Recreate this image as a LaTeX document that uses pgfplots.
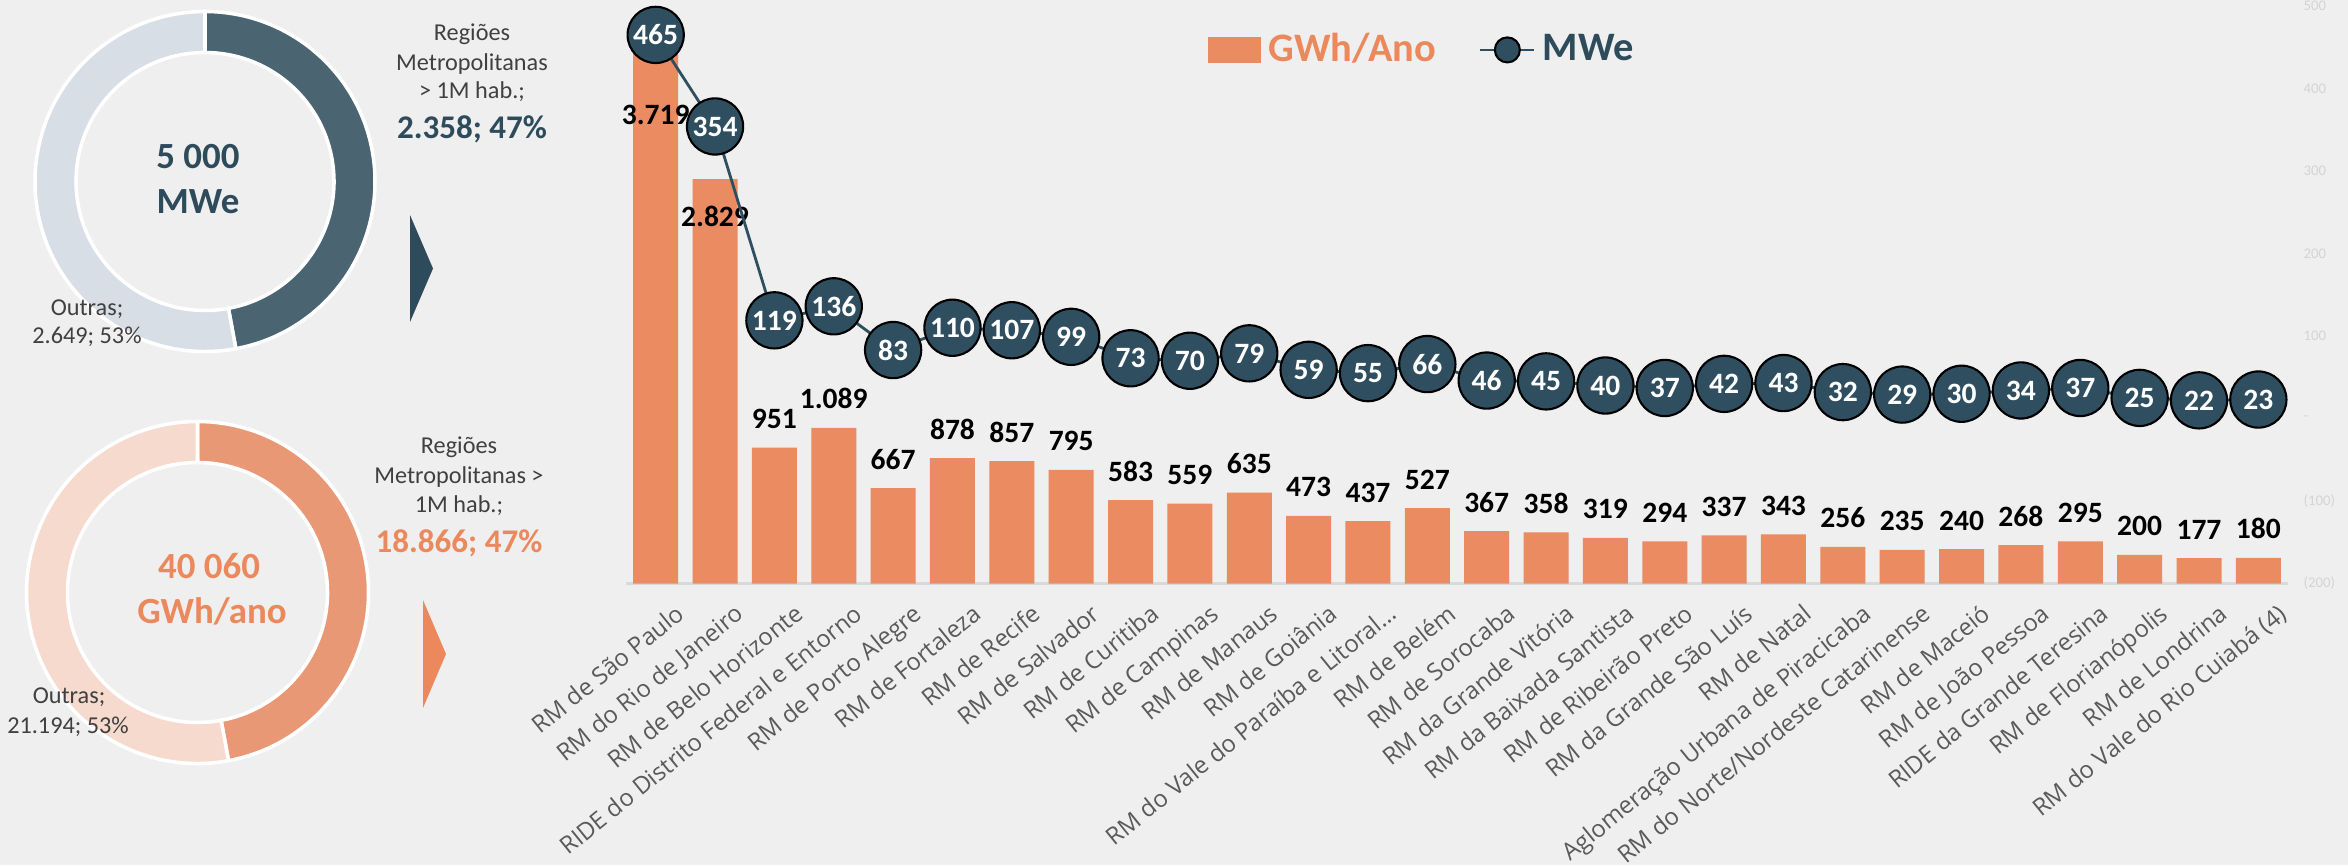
\documentclass[border=0pt]{standalone}
\usepackage{pgfplots}
\pgfplotsset{compat=1.18}
\usepackage{pgfplotstable}
\usepackage{fontspec}
\setmainfont{Carlito}
\newfontfamily\tickfont{Open Sans}
\definecolor{bgc}{RGB}{239,239,239}
\definecolor{barc}{RGB}{234,139,97}
\definecolor{markc}{RGB}{47,79,96}
\definecolor{slatec}{RGB}{46,75,92}
\definecolor{darkseg}{RGB}{74,100,114}
\definecolor{lightseg}{RGB}{216,222,230}
\definecolor{orseg}{RGB}{233,152,118}
\definecolor{orlight}{RGB}{246,218,205}
\definecolor{ortext}{RGB}{235,137,92}
\definecolor{txtc}{RGB}{64,64,64}
\definecolor{tickc}{RGB}{90,90,90}
\definecolor{faintc}{RGB}{212,212,212}
\definecolor{basec}{RGB}{217,217,217}

\pgfplotstableread{
x gwh mwe off
0 3719 465 -20.8
1 2829 354 -13.4
2 951 119 5.4
3 1089 136 5.4
4 667 83 5.4
5 878 110 5.4
6 857 107 5.4
7 795 99 5.4
8 583 73 5.4
9 559 70 5.4
10 635 79 5.4
11 473 59 5.4
12 437 55 5.4
13 527 66 5.4
14 367 46 5.4
15 358 45 5.4
16 319 40 5.4
17 294 37 5.4
18 337 42 5.4
19 343 43 5.4
20 256 32 5.4
21 235 29 5.4
22 240 30 5.4
23 268 34 5.4
24 295 37 5.4
25 200 25 5.4
26 177 22 5.4
27 180 23 5.4
}\datatable

\newcommand\labfont{\fontsize{8.4}{10}\selectfont\bfseries}
\newcommand\sidefont{\fontsize{6.9}{8}\selectfont}

\begin{document}
\begin{tikzpicture}
\path[use as bounding box] (0,0) rectangle (23.48,8.65);
\fill[bgc] (0,0) rectangle (23.48,8.65);

% ---- top donut (MWe) ----
\pgfmathsetmacro\angA{90-360*(2.358/(2.358+2.649))}
\begin{scope}[shift={(2.05,6.835)}]
 \filldraw[fill=darkseg, draw=white, line width=1pt] (90:1.70) arc[start angle=90, end angle=\angA, radius=1.70] -- (\angA:1.29) arc[start angle=\angA, end angle=90, radius=1.29] -- cycle;
 \filldraw[fill=lightseg, draw=white, line width=1pt] (\angA:1.70) arc[start angle=\angA, end angle=-270, radius=1.70] -- (-270:1.29) arc[start angle=-270, end angle=\angA, radius=1.29] -- cycle;
\end{scope}
\node[anchor=base, font=\fontsize{10.5}{12}\selectfont\bfseries, text=slatec] at (1.98,6.97) {5 000};
\node[anchor=base, font=\fontsize{10.5}{12}\selectfont\bfseries, text=slatec] at (1.98,6.52) {MWe};
\node[anchor=base, font=\sidefont, text=txtc] at (4.72,8.243) {Regiões};
\node[anchor=base, font=\sidefont, text=txtc] at (4.72,7.95) {Metropolitanas};
\node[anchor=base, font=\sidefont, text=txtc] at (4.72,7.67) {> 1M hab.;};
\node[anchor=base, font=\fontsize{9.4}{11}\selectfont\bfseries, text=slatec] at (4.72,7.27) {2.358; 47\%};
\node[anchor=base, font=\sidefont, text=txtc] at (0.87,5.50) {Outras;};
\node[anchor=base, font=\sidefont, text=txtc] at (0.87,5.22) {2.649; 53\%};
\fill[slatec] (4.10,6.50) -- (4.33,5.965) -- (4.10,5.43) -- cycle;

% ---- bottom donut (GWh) ----
\pgfmathsetmacro\angB{90-360*(18.866/(18.866+21.194))}
\begin{scope}[shift={(1.975,2.725)}]
 \filldraw[fill=orseg, draw=white, line width=1pt] (90:1.71) arc[start angle=90, end angle=\angB, radius=1.71] -- (\angB:1.30) arc[start angle=\angB, end angle=90, radius=1.30] -- cycle;
 \filldraw[fill=orlight, draw=white, line width=1pt] (\angB:1.71) arc[start angle=\angB, end angle=-270, radius=1.71] -- (-270:1.30) arc[start angle=-270, end angle=\angB, radius=1.30] -- cycle;
\end{scope}
\node[anchor=base, font=\fontsize{10.5}{12}\selectfont\bfseries, text=ortext] at (2.09,2.87) {40 060};
\node[anchor=base, font=\fontsize{10.5}{12}\selectfont\bfseries, text=ortext] at (2.12,2.42) {GWh/ano};
\node[anchor=base, font=\sidefont, text=txtc] at (4.59,4.12) {Regiões};
\node[anchor=base, font=\sidefont, text=txtc] at (4.59,3.82) {Metropolitanas >};
\node[anchor=base, font=\sidefont, text=txtc] at (4.59,3.53) {1M hab.;};
\node[anchor=base, font=\fontsize{9.4}{11}\selectfont\bfseries, text=ortext] at (4.59,3.13) {18.866; 47\%};
\node[anchor=base, font=\sidefont, text=txtc] at (0.69,1.62) {Outras;};
\node[anchor=base, font=\sidefont, text=txtc] at (0.68,1.32) {21.194; 53\%};
\fill[ortext] (4.23,2.65) -- (4.46,2.11) -- (4.23,1.57) -- cycle;

% ---- bars (GWh/Ano) ----
\begin{axis}[
  at={(6.26cm,2.815cm)}, anchor=south west,
  width=16.62cm, height=5.775cm, scale only axis,
  xmin=-0.5, xmax=27.5, ymin=0, ymax=4040,
  enlargelimits=false, clip=false,
  axis y line=none, axis x line*=bottom,
  x axis line style={basec, line width=0.7pt},
  xtick={0,...,27}, xtick style={draw=none},
  xticklabels={RM de São Paulo,RM do Rio de Janeiro,RM de Belo Horizonte,RIDE do Distrito Federal e Entorno,RM de Porto Alegre,RM de Fortaleza,RM de Recife,RM de Salvador,RM de Curitiba,RM de Campinas,RM de Manaus,RM de Goiânia,RM do Vale do Paraíba e Litoral…,RM de Belém,RM de Sorocaba,RM da Grande Vitória,RM da Baixada Santista,RM de Ribeirão Preto,RM da Grande São Luís,RM de Natal,Aglomeração Urbana de Piracicaba,RM do Norte/Nordeste Catarinense,RM de Maceió,RM de João Pessoa,RIDE da Grande Teresina,RM de Florianópolis,RM de Londrina,RM do Vale do Rio Cuiabá (4)},
  xticklabel style={font=\tickfont\fontsize{6.8}{8}\selectfont, text=tickc, rotate=39, anchor=north east, inner sep=0pt, xshift=0.03cm, yshift=-0.26cm},
]
\addplot[ybar, bar width=0.45cm, fill=barc, draw=none,
  visualization depends on={\thisrow{off} \as \loff},
  nodes near coords={\pgfmathprintnumber[1000 sep={.}, assume math mode=true]{\pgfplotspointmeta}},
  every node near coord/.append style={anchor=base, inner sep=0pt, yshift=\loff pt, font=\labfont, text=black}]
  table[x=x, y=gwh] {\datatable};
\end{axis}

% ---- line (MWe) ----
\begin{axis}[
  at={(6.26cm,2.815cm)}, anchor=south west,
  width=16.62cm, height=5.775cm, scale only axis,
  xmin=-0.5, xmax=27.5, ymin=-200, ymax=500,
  enlargelimits=false, clip=false,
  axis x line=none, axis y line*=right,
  y axis line style={draw=none}, ytick style={draw=none},
  ytick={-200,-100,0,100,200,300,400,500},
  yticklabels={(200),(100),-,100,200,300,400,500},
  yticklabel style={font=\fontsize{4.2}{5}\selectfont, text=faintc, anchor=west, inner sep=0pt, xshift=0.15cm},
  legend columns=2,
  legend style={at={(0.3498,0.924)}, anchor=west, draw=none, fill=none, inner xsep=0pt, inner ysep=0pt,
    font=\fontsize{11.5}{13}\selectfont\bfseries,
    /tikz/every even column/.append style={column sep=0.36cm}},
]
\addlegendimage{legend image code/.code={\fill[barc] (-0.08cm,-0.125cm) rectangle (0.44cm,0.125cm);}}
\addlegendentry{\textcolor{ortext}{GWh/Ano}}
\addlegendimage{legend image code/.code={\draw[markc, line width=0.8pt] (-0.05cm,0cm) -- (0.49cm,0cm); \filldraw[fill=markc, draw=black, line width=0.6pt] (0.22cm,0cm) circle (0.125cm);}}
\addlegendentry{\textcolor{slatec}{MWe}}
\addplot[forget plot, markc, line width=0.8pt, mark=*, mark size=8pt,
  mark options={fill=markc, draw=black, line width=0.6pt},
  nodes near coords={\pgfmathprintnumber[assume math mode=true]{\pgfplotspointmeta}},
  every node near coord/.append style={anchor=center, inner sep=0pt, font=\labfont, text=white}]
  table[x=x, y=mwe] {\datatable};
\end{axis}
\end{tikzpicture}
\end{document}
